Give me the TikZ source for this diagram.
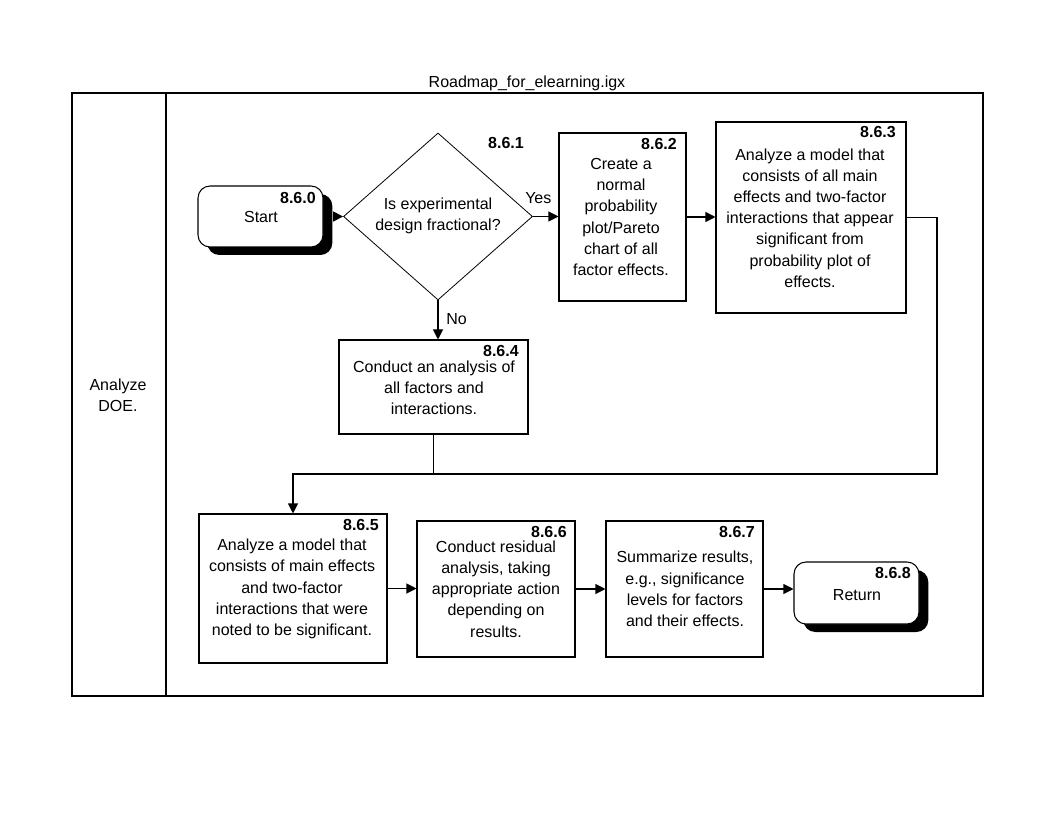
\documentclass[tikz,border=0pt]{standalone}
\usepackage{fontspec}
\setmainfont{Liberation Sans}
\usetikzlibrary{arrows.meta,shapes.geometric,fit,shadows}
\begin{document}
\begin{tikzpicture}[x=0.75pt,y=-0.75pt,
  every node/.style={font=\fontsize{12}{15.9}\selectfont},
  boxst/.style={draw, line width=0.8pt, inner sep=0pt},
  txt/.style={align=center, inner sep=0pt},
  num/.style={font=\fontsize{12}{14}\selectfont\bfseries, inner sep=0pt, anchor=east},
  arr/.style={-{Triangle[length=7.5pt,width=7.5pt]}, line width=0.8pt},
  line/.style={line width=0.8pt},
  term/.style={draw, line width=0.8pt, rounded corners=9pt, fill=white, inner sep=0pt,
     drop shadow={shadow xshift=7pt, shadow yshift=-6pt, fill=black, opacity=1}},
]
\useasboundingbox (0,0) rectangle (1056,816);
% frame
\node (title) at (527,83) {Roadmap\_for\_elearning.igx};
\node (lane) [boxst, fit={(72,93)(983,696)}] {};
\node (lanehead) [boxst, fit={(72,93)(166,696)}] {};
\node (lanetxt) [txt] at (118,395) {Analyze\\DOE.};

% start
\node (start) [term, fit={(198,186)(323,247)}] {};
\node (startn) [num] at (316,198) {8.6.0};
\node (startt) [txt] at (261,217) {Start};

% decision
\node (dia) [diamond, draw, line width=0.6pt, inner sep=0pt, minimum width=141.75pt, minimum height=125.25pt] at (438,216.5) {};
\node (dian) [txt, font=\fontsize{12}{14}\selectfont\bfseries] at (506,143) {8.6.1};
\node (diat) [txt] at (438,215.5) {Is experimental\\design fractional?};

% 8.6.2
\node (b2) [boxst, fit={(559,133)(686,301)}] {};
\node (b2n) [num] at (677,144) {8.6.2};
\node (b2t) [txt] at (621,217) {Create a\\normal\\probability\\plot/Pareto\\chart of all\\factor effects.};

% 8.6.3
\node (b3) [boxst, fit={(716,122)(906,313)}] {};
\node (b3n) [num] at (896,132) {8.6.3};
\node (b3t) [txt] at (810,218) {Analyze a model that\\consists of all main\\effects and two-factor\\interactions that appear\\significant from\\probability plot of\\effects.};

% 8.6.4
\node (b4) [boxst, fit={(339,340)(528,434)}] {};
\node (b4n) [num] at (519,351) {8.6.4};
\node (b4t) [txt] at (434,388) {Conduct an analysis of\\all factors and\\interactions.};

% 8.6.5
\node (b5) [boxst, fit={(199,514)(387,663)}] {};
\node (b5n) [num] at (379,525) {8.6.5};
\node (b5t) [txt] at (292,589) {Analyze a model that\\consists of main effects\\and two-factor\\interactions that were\\noted to be significant.};

% 8.6.6
\node (b6) [boxst, fit={(417,521)(575,657)}] {};
\node (b6n) [num] at (567,532) {8.6.6};
\node (b6t) [txt] at (496,589) {Conduct residual\\analysis, taking\\appropriate action\\depending on\\results.};

% 8.6.7
\node (b7) [boxst, fit={(606,521)(763,657)}] {};
\node (b7n) [num] at (755,532) {8.6.7};
\node (b7t) [txt] at (685,589) {Summarize results,\\e.g., significance\\levels for factors\\and their effects.};

% return
\node (ret) [term, fit={(794,562)(919,624)}] {};
\node (retn) [num] at (911,573) {8.6.8};
\node (rett) [txt] at (857,595) {Return};

% connectors
\draw[arr] ([xshift=7pt]start.east) -- (start.east -| dia.west);
\draw[arr] (dia.east) -- (dia.east -| b2.west);
\node (yes) [anchor=west, inner sep=0pt] at (525,198) {Yes};
\draw[arr] (b2.east) -- (b2.east -| b3.west);
\coordinate (j1) at (937,474);
\draw[arr] (b3.east) -| (j1) -- (j1 -| b5.north) -- (b5.north);
\draw[arr] (dia.south) -- (dia.south |- b4.north);
\node (no) [anchor=west, inner sep=0pt] at (446,319) {No};
\draw[line] (b4.south) -- (b4.south |- j1);
\draw[arr] (b5.east) -- (b5.east -| b6.west);
\draw[arr] (b6.east) -- (b6.east -| b7.west);
\draw[arr] (b7.east) -- (b7.east -| ret.west);
\end{tikzpicture}
\end{document}
